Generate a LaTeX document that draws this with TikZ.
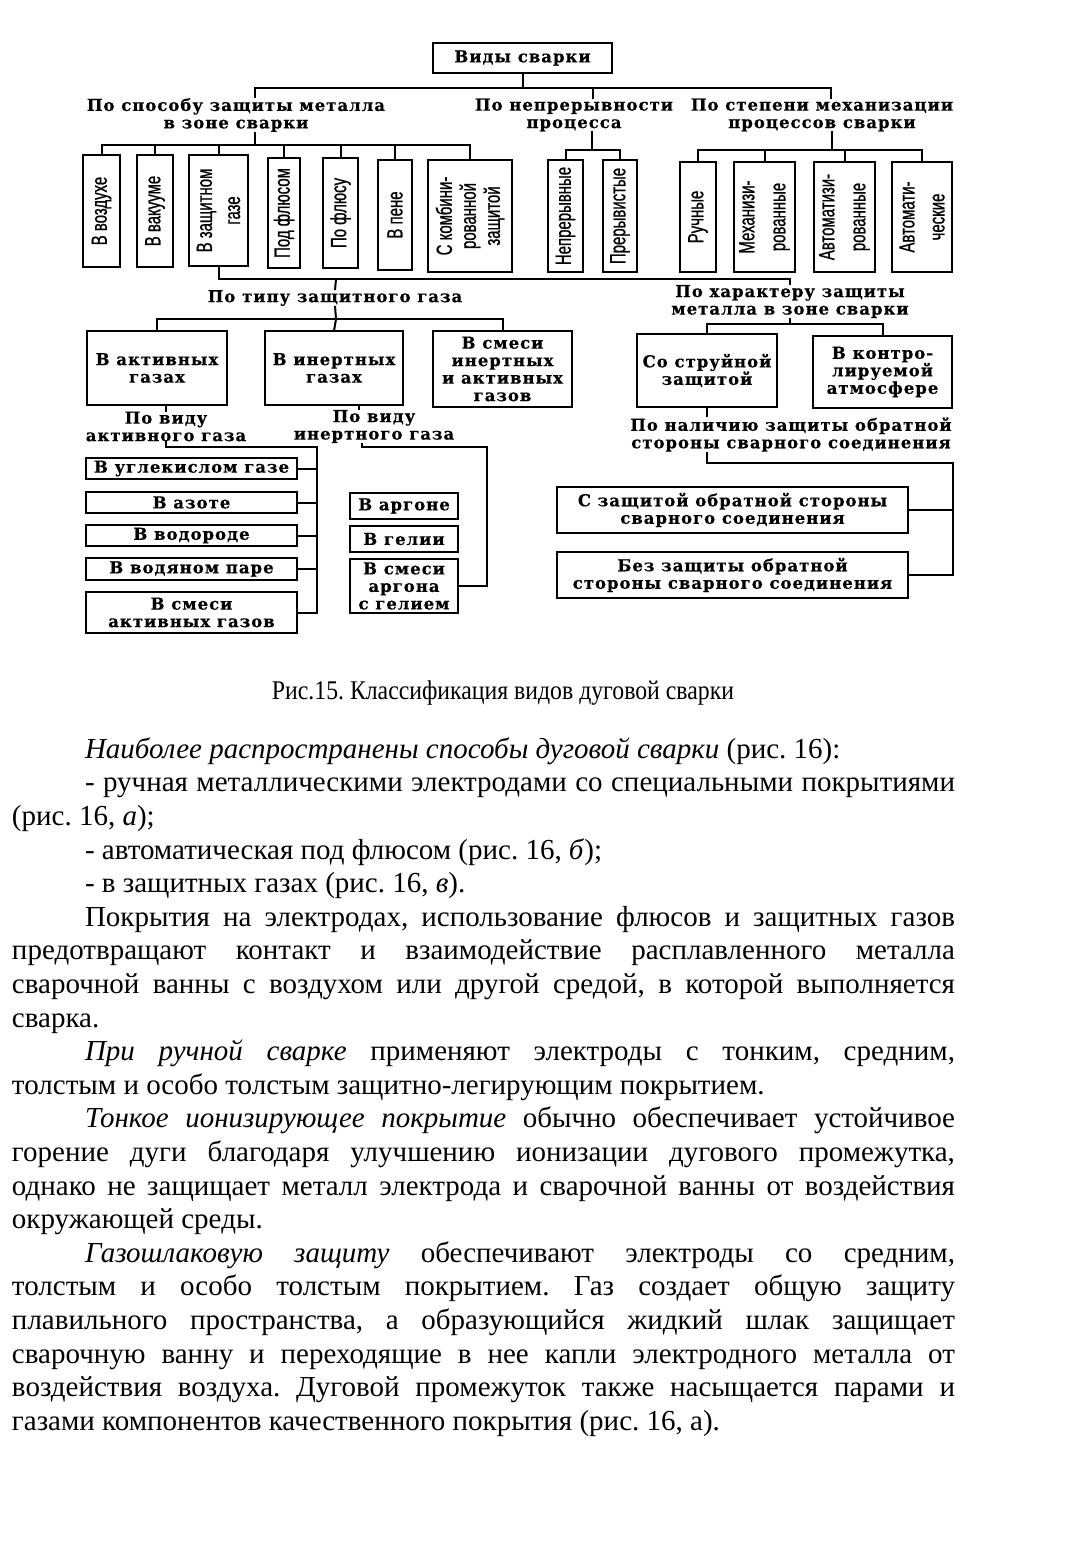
\documentclass[tikz,border=0pt]{standalone}
\usepackage{fontspec}
\setmainfont{Liberation Serif}
\newfontfamily\dgf[LetterSpace=6, FakeBold=0.4]{DejaVu Serif}
\newfontfamily\vf[FakeStretch=0.68, FakeBold=0.8]{Liberation Sans}
\newfontfamily\capf[FakeStretch=0.88]{Liberation Serif}
\usetikzlibrary{calc}
\frenchspacing
\begin{document}
\begin{tikzpicture}[x=1pt,y=-1pt,
  every node/.style={inner sep=0pt, outer sep=0pt},
  bx/.style={draw, line width=2.6pt, align=center, font=\dgf\bfseries\fontsize{16.5}{17.5}\selectfont},
  vb/.style={draw, line width=2.6pt, align=center, rotate=90, font=\vf\fontsize{22}{28}\selectfont},
  lb/.style={align=center, font=\dgf\bfseries\fontsize{16.5}{17.5}\selectfont},
  cn/.style={line width=2pt},
  bodyl/.style={anchor=mid west, font=\fontsize{29}{33.6}\selectfont},
]
\useasboundingbox (0,0) rectangle (1088,1563);
\fill[white] (0,0) rectangle (1088,1563);

% ---- top
\node[bx, minimum width=179, minimum height=30] (top) at (522.5,58) {Виды сварки};
\node[lb] (L1) at (236,115) {По способу защиты металла\\в зоне сварки};
\node[lb] (L2) at (574,115) {По непрерывности\\процесса};
\node[lb] (L3) at (822,115) {По степени механизации\\процессов сварки};

\coordinate (j1) at (255,88); \coordinate (j2) at (593,88); \coordinate (j3) at (831,88);
\draw[cn] (top.south) -- (top.south |- j1);
\draw[cn] (L1.north -| j1) -- (j1) -- (j3) -- (L3.north -| j3);
\draw[cn] (j2) -- (L2.north -| j2);

% ---- vertical boxes
\node[vb, minimum width=112, minimum height=37] (v1) at (101.5,211) {В воздухе};
\node[vb, minimum width=112, minimum height=36] (v2) at (155,211) {В вакууме};
\node[vb, minimum width=111, minimum height=59] (v3) at (218.5,210.5) {В защитном\\газе};
\node[vb, minimum width=110, minimum height=32] (v4) at (284,213) {Под флюсом};
\node[vb, minimum width=110, minimum height=35] (v5) at (340.5,213) {По флюсу};
\node[vb, minimum width=110, minimum height=34] (v6) at (395,215) {В пене};
\node[vb, minimum width=112, minimum height=84, font=\vf\fontsize{22}{24}\selectfont] (v7) at (470,216) {С комбини-\\рованной\\защитой};
\node[vb, minimum width=112, minimum height=35] (v8) at (565.5,216) {Непрерывные};
\node[vb, minimum width=112, minimum height=34] (v9) at (620,216) {Прерывистые};
\node[vb, minimum width=110, minimum height=36] (v10) at (698,217) {Ручные};
\node[vb, minimum width=110, minimum height=61, font=\vf\fontsize{22}{31}\selectfont] (v11) at (764.5,217) {Механизи-\\рованные};
\node[vb, minimum width=110, minimum height=61, font=\vf\fontsize{22}{31}\selectfont] (v12) at (844.5,217) {Автоматизи-\\рованные};
\node[vb, minimum width=110, minimum height=60, font=\vf\fontsize{22}{30}\selectfont] (v13) at (922,217) {Автомати-\\ческие};

\coordinate (k1) at (255,145);
\draw[cn] (L1.south -| k1) -- (k1);
\draw[cn] (v1.east) |- (k1) -| (v7.east);
\foreach \n in {v2,v3,v4,v5,v6} \draw[cn] (\n.east) -- (\n.east |- k1);
\coordinate (k2) at (592,150);
\draw[cn] (L2.south -| k2) -- (k2);
\draw[cn] (v8.east) |- (k2) -| (v9.east);
\coordinate (k3) at (832,150);
\draw[cn] (L3.south -| k3) -- (k3);
\draw[cn] (v10.east) |- (k3) -| (v13.east);
\foreach \n in {v11,v12} \draw[cn] (\n.east) -- (\n.east |- k3);

% ---- level 3
\node[lb] (L4) at (335,298) {По типу защитного газа};
\node[lb] (L5) at (790,301.5) {По характеру защиты\\металла в зоне сварки};
\coordinate (m1) at (336,279);
\draw[cn] (v3.west) |- (m1) -| (L5.north);
\draw[cn] (m1) -- (L4.north);

\node[bx, minimum width=140, minimum height=74] (A1) at (157,368) {В активных\\газах};
\node[bx, minimum width=138, minimum height=74] (A2) at (334,368) {В инертных\\газах};
\node[bx, minimum width=139, minimum height=76] (A3) at (502.5,369) {В смеси\\инертных\\и активных\\газов};
\coordinate (m2) at (336,319);
\draw[cn] (L4.south) -- (m2);
\draw[cn] (A1.north) |- (m2) -| (A3.north);
\draw[cn] (m2) -- (A2.north);

\node[bx, minimum width=140, minimum height=73] (B1) at (707,370.5) {Со струйной\\защитой};
\node[bx, minimum width=139, minimum height=72] (B2) at (882.5,372) {В контро-\\лируемой\\атмосфере};
\coordinate (m3) at (790,324);
\draw[cn] (L5.south) -- (m3);
\draw[cn] (B1.north) |- (m3) -| (B2.north);

% ---- back side protection
\node[lb] (L6) at (791,434.5) {По наличию защиты обратной\\стороны сварного соединения};
\draw[cn] (B1.south) -- (B1.south |- L6.north);
\node[bx, minimum width=351, minimum height=46] (C1) at (732.5,510) {С защитой обратной стороны\\сварного соединения};
\node[bx, minimum width=351, minimum height=46] (C2) at (732.5,575) {Без защиты обратной\\стороны сварного соединения};
\coordinate (n1) at (953,463);
\draw[cn] (L6.south -| B1.south) -- (B1.south |- n1) -- (n1) |- (C2.east);
\draw[cn] (C1.east) -- (C1.east -| n1);

% ---- active gases
\node[lb] (L7) at (166,426.5) {По виду\\активного газа};
\draw[cn] (A1.south -| L7.north) -- (L7.north);
\node[bx, minimum width=211, minimum height=21] (D1) at (191.5,468.5) {В углекислом газе};
\node[bx, minimum width=211, minimum height=21] (D2) at (191.5,502.5) {В азоте};
\node[bx, minimum width=211, minimum height=21] (D3) at (191.5,535.5) {В водороде};
\node[bx, minimum width=211, minimum height=22] (D4) at (191.5,569) {В водяном паре};
\node[bx, minimum width=211, minimum height=41] (D5) at (191.5,612.5) {В смеси\\активных газов};
\coordinate (p1) at (317,447);
\draw[cn] (L7.south) |- (p1) |- (D5.east);
\foreach \n in {D1,D2,D3,D4} \draw[cn] (\n.east) -- (\n.east -| p1);

% ---- inert gases
\node[lb] (L8) at (374,426.5) {По виду\\инертного газа};
\coordinate (t8) at (359,405);
\draw[cn] (t8) -- (t8 |- L8.north);
\node[bx, minimum width=108, minimum height=26] (E1) at (404,506) {В аргоне};
\node[bx, minimum width=108, minimum height=26] (E2) at (404,539) {В гелии};
\node[bx, minimum width=108, minimum height=54] (E3) at (404,586) {В смеси\\аргона\\с гелием};
\coordinate (t9) at (362,447); \coordinate (p2) at (487,447);
\draw[cn] (t9 |- L8.south) -- (t9) -- (p2) |- (E3.east);

% ---- caption and text
\node[anchor=mid, font=\capf\fontsize{27}{30}\selectfont] (cap) at (503,697) {Рис.15. Классификация видов дуговой сварки};

\node[bodyl] (t0) at (85,756) {\textit{Наиболее распространены способы дуговой сварки} (рис. 16):};
\node[bodyl] (t1) at (85,789.6) {\makebox[870pt][s]{- ручная металлическими электродами со специальными покрытиями}};
\node[bodyl] (t2) at (12,823.2) {(рис. 16, \textit{а});};
\node[bodyl] (t3) at (85,856.8) {- автоматическая под флюсом (рис. 16, \textit{б});};
\node[bodyl] (t4) at (85,890.4) {- в защитных газах (рис. 16, \textit{в}).};
\node[bodyl] (t5) at (85,924) {\makebox[870pt][s]{Покрытия на электродах, использование флюсов и защитных газов}};
\node[bodyl] (t6) at (12,957.6) {\makebox[943pt][s]{предотвращают контакт и взаимодействие расплавленного металла}};
\node[bodyl] (t7) at (12,991.2) {\makebox[943pt][s]{сварочной ванны с воздухом или другой средой, в которой выполняется}};
\node[bodyl] (t8) at (12,1024.8) {сварка.};
\node[bodyl] (t9) at (85,1058.4) {\makebox[870pt][s]{\textit{При ручной сварке} применяют электроды с тонким, средним,}};
\node[bodyl] (t10) at (12,1092) {толстым и особо толстым защитно-легирующим покрытием.};
\node[bodyl] (t11) at (85,1125.6) {\makebox[870pt][s]{\textit{Тонкое ионизирующее покрытие} обычно обеспечивает устойчивое}};
\node[bodyl] (t12) at (12,1159.2) {\makebox[943pt][s]{горение дуги благодаря улучшению ионизации дугового промежутка,}};
\node[bodyl] (t13) at (12,1192.8) {\makebox[943pt][s]{однако не защищает металл электрода и сварочной ванны от воздействия}};
\node[bodyl] (t14) at (12,1226.4) {окружающей среды.};
\node[bodyl] (t15) at (85,1260) {\makebox[870pt][s]{\textit{Газошлаковую защиту} обеспечивают электроды со средним,}};
\node[bodyl] (t16) at (12,1293.6) {\makebox[943pt][s]{толстым и особо толстым покрытием. Газ создает общую защиту}};
\node[bodyl] (t17) at (12,1327.2) {\makebox[943pt][s]{плавильного пространства, а образующийся жидкий шлак защищает}};
\node[bodyl] (t18) at (12,1360.8) {\makebox[943pt][s]{сварочную ванну и переходящие в нее капли электродного металла от}};
\node[bodyl] (t19) at (12,1394.4) {\makebox[943pt][s]{воздействия воздуха. Дуговой промежуток также насыщается парами и}};
\node[bodyl] (t20) at (12,1428) {газами компонентов качественного покрытия (рис. 16, а).};
\end{tikzpicture}
\end{document}
